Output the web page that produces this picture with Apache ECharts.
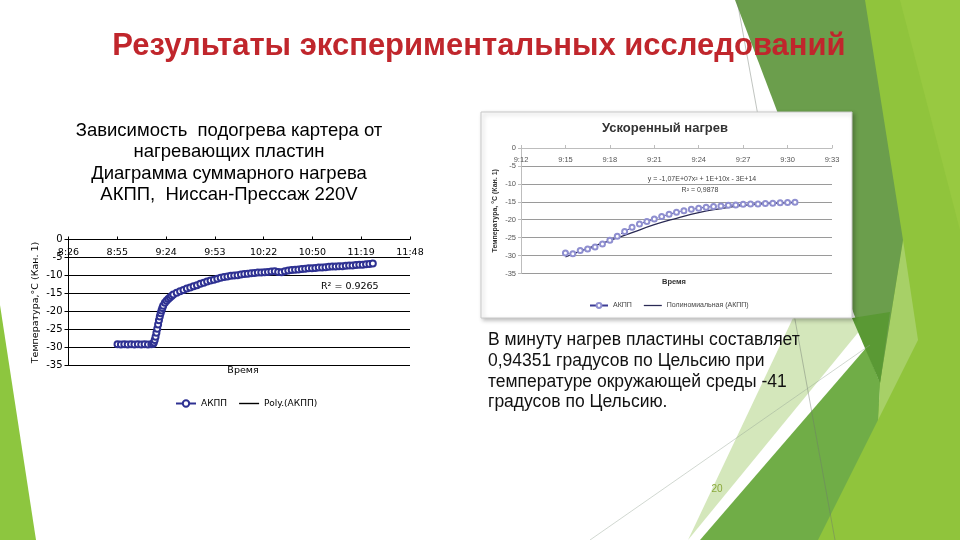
<!DOCTYPE html>
<html><head><meta charset="utf-8">
<script src="https://cdn.jsdelivr.net/npm/echarts@6/dist/echarts.min.js"></script>
<style>html,body{margin:0;padding:0;background:#fff}#c{width:960px;height:540px}</style>
</head><body><div id="c"></div>
<script>
// ---------- main chart data ----------
const mainTickLabels = ["8:26","8:55","9:24","9:53","10:22","10:50","11:19","11:48"];
const mainTimes = [
 "8:55","8:57","8:59","9:01","9:03","9:05","9:07","9:09","9:11","9:13","9:15","9:16",
 "9:16:30","9:17","9:17:30","9:18","9:18:30","9:19","9:19:30","9:20","9:20:30","9:21","9:21:30","9:22",
 "9:23","9:24","9:25","9:26","9:27","9:28","9:30","9:32","9:34","9:36","9:38","9:40",
 "9:42","9:44","9:46","9:48","9:50","9:52","9:54","9:56","9:58","10:00","10:02","10:04",
 "10:06","10:08","10:10","10:12","10:14","10:16","10:18","10:20","10:22","10:24","10:26","10:28",
 "10:30","10:32","10:34","10:36","10:38","10:40","10:42","10:44","10:46","10:48","10:50","10:52",
 "10:54","10:56","10:58","11:00","11:02","11:04","11:06","11:08","11:10","11:12","11:14","11:16",
 "11:18","11:20","11:22","11:24","11:26"];
const mainTemps = [
 -29.1,-29.2,-29.1,-29.2,-29.1,-29.2,-29.1,-29.2,-29.1,-29.2,-29.1,-29.0,
 -28.6,-27.9,-27.0,-25.9,-24.8,-23.6,-22.4,-21.4,-20.5,-19.7,-19.0,-18.4,
 -17.6,-17.0,-16.5,-16.1,-15.7,-15.3,-14.8,-14.4,-14.0,-13.6,-13.3,-13.0,
 -12.7,-12.3,-12.0,-11.7,-11.4,-11.2,-10.9,-10.6,-10.4,-10.3,-10.1,-10.0,
 -9.9,-9.7,-9.6,-9.5,-9.4,-9.3,-9.2,-9.2,-9.1,-9.0,-8.9,-8.8,
 -9.0,-9.1,-8.8,-8.6,-8.5,-8.4,-8.3,-8.2,-8.1,-8.0,-8.0,-7.9,
 -7.8,-7.8,-7.7,-7.6,-7.5,-7.5,-7.4,-7.4,-7.3,-7.2,-7.2,-7.1,
 -7.0,-7.0,-6.9,-6.8,-6.7];
const mainR2 = "R² = 0.9265";

// ---------- inset chart data ----------
const insetTickLabels = ["9:12","9:15","9:18","9:21","9:24","9:27","9:30","9:33"];
const insetTimes = [
 "9:15:00","9:15:30","9:16:00","9:16:30","9:17:00","9:17:30","9:18:00","9:18:30",
 "9:19:00","9:19:30","9:20:00","9:20:30","9:21:00","9:21:30","9:22:00","9:22:30",
 "9:23:00","9:23:30","9:24:00","9:24:30","9:25:00","9:25:30","9:26:00","9:26:30",
 "9:27:00","9:27:30","9:28:00","9:28:30","9:29:00","9:29:30","9:30:00","9:30:30"];
const insetTemps = [
 -29.3,-29.5,-28.6,-28.2,-27.6,-26.8,-25.7,-24.6,
 -23.3,-22.1,-21.2,-20.5,-19.8,-19.1,-18.5,-17.9,
 -17.5,-17.1,-16.8,-16.5,-16.3,-16.2,-16.0,-15.9,
 -15.7,-15.6,-15.6,-15.5,-15.4,-15.3,-15.2,-15.1];
const insetTrendTimes = ["9:15:00","9:16:30","9:18:00","9:19:30","9:21:00","9:22:30","9:24:00","9:25:30","9:27:00","9:28:30","9:30:30"];
const insetTrendTemps = [-30.4,-28.0,-25.8,-23.6,-21.4,-19.6,-18.0,-16.9,-16.0,-15.5,-15.2];
const insetEquation = "y = -1,07E+07x² + 1E+10x - 3E+14";
const insetR2 = "R² = 0,9878";

// ---------- helpers ----------
function toMin(s){const p=s.split(':').map(Number);return p[0]*60+p[1]+(p[2]||0)/60;}
const mainBase = toMin(mainTickLabels[0]);
const mainSpan = toMin(mainTickLabels[mainTickLabels.length-1]) - mainBase;
const mainStep = mainSpan/(mainTickLabels.length-1);
const insetBase = toMin(insetTickLabels[0]);
const insetSpan = toMin(insetTickLabels[insetTickLabels.length-1]) - insetBase;
const insetStep = insetSpan/(insetTickLabels.length-1);
const mainData = mainTimes.map((t,i)=>[toMin(t)-mainBase, mainTemps[i]]);
const insetData = insetTimes.map((t,i)=>[toMin(t)-insetBase, insetTemps[i]]);
const insetTrend = insetTrendTimes.map((t,i)=>[toMin(t)-insetBase, insetTrendTemps[i]]);

const F = '"Liberation Sans", Arial, sans-serif';
const FD = '"DejaVu Sans", Verdana, sans-serif';
const lineIcon = 'path://M0,0 L20,0 L20,1.4 L0,1.4 Z';

const chart = echarts.init(document.getElementById('c'), null, {renderer:'canvas'});
function poly(points, fill, z){return {type:'polygon', z:z, silent:true, shape:{points:points}, style:{fill:fill}};}
function txt(x,y,text,font,fill,align,z){return {type:'text', z:z||10, x:x, y:y, style:{text:text, font:font, fill:fill||'#000', textAlign:align||'left', textVerticalAlign:'middle'}};}

const option = {
  animation:false,
  backgroundColor:'#ffffff',
  grid:[
    {left:68.5, right:550, top:239.5, bottom:174.5},
    {left:521, right:128, top:148, bottom:266.5}
  ],
  xAxis:[
    {gridIndex:0, type:'value', position:'top', min:0, max:mainSpan, interval:mainStep,
     axisLine:{onZero:false, lineStyle:{color:'#000', width:1}},
     axisTick:{length:3, lineStyle:{color:'#000'}},
     axisLabel:{inside:true, margin:8, fontSize:9.5, color:'#000', fontFamily:FD, showMaxLabel:true,
       formatter:v=>mainTickLabels[Math.round(v/mainStep)]||''},
     splitLine:{show:false}},
    {gridIndex:1, type:'value', position:'top', min:0, max:insetSpan, interval:insetStep,
     axisLine:{onZero:false, lineStyle:{color:'#bdbdbd', width:1}},
     axisTick:{length:3, lineStyle:{color:'#bdbdbd'}},
     axisLabel:{inside:true, margin:8, fontSize:7.5, color:'#555', fontFamily:F,
       formatter:v=>insetTickLabels[Math.round(v/insetStep)]||''},
     splitLine:{show:false}}
  ],
  yAxis:[
    {gridIndex:0, type:'value', min:-35, max:0, interval:5,
     axisLine:{show:true, onZero:false, lineStyle:{color:'#000'}},
     axisTick:{show:true, length:4, lineStyle:{color:'#000'}},
     axisLabel:{fontSize:10, color:'#000', margin:6, fontFamily:FD},
     splitLine:{lineStyle:{color:'#000', width:1}},
     name:'Температура,°С (Кан. 1)', nameLocation:'middle', nameGap:28, nameRotate:90,
     nameTextStyle:{fontSize:9.5, color:'#000', fontFamily:FD}},
    {gridIndex:1, type:'value', min:-35, max:0, interval:5,
     axisLine:{show:true, onZero:false, lineStyle:{color:'#bdbdbd'}},
     axisTick:{show:true, length:3, lineStyle:{color:'#bdbdbd'}},
     axisLabel:{fontSize:7.5, color:'#555', margin:5, fontFamily:F},
     splitLine:{lineStyle:{color:'#9a9a9a', width:1}},
     name:'Температура, °С (Кан. 1)', nameLocation:'middle', nameGap:22, nameRotate:90,
     nameTextStyle:{fontSize:7, fontWeight:'bold', color:'#333', fontFamily:F}}
  ],
  legend:[
    {left:170, top:394, itemWidth:20, itemHeight:8, itemGap:12,
     textStyle:{fontSize:9, color:'#000', fontFamily:FD},
     data:['АКПП', {name:'Poly.(АКПП)', icon:lineIcon, itemStyle:{color:'#000'}}]},
    {left:584, top:297, itemWidth:18, itemHeight:6, itemGap:12,
     textStyle:{fontSize:7, color:'#444', fontFamily:F},
     formatter:n=>n==='АКПП (ускоренный)'?'АКПП':n,
     data:['АКПП (ускоренный)', {name:'Полиномиальная (АКПП)', icon:lineIcon, itemStyle:{color:'#2a2a55'}}]}
  ],
  series:[
    {name:'АКПП', type:'line', xAxisIndex:0, yAxisIndex:0, data:mainData,
     symbol:'emptyCircle', symbolSize:6, showAllSymbol:true,
     itemStyle:{color:'#2e3192', borderWidth:1.8},
     lineStyle:{color:'#2e3192', width:2.2}, z:5},
    {name:'Poly.(АКПП)', type:'line', xAxisIndex:0, yAxisIndex:0, data:[],
     symbol:'none', lineStyle:{color:'#000', width:1}, itemStyle:{color:'#000'}},
    {name:'Полиномиальная (АКПП)', type:'line', xAxisIndex:1, yAxisIndex:1, data:insetTrend,
     smooth:true, symbol:'none', lineStyle:{color:'#2a2a55', width:1.3}, itemStyle:{color:'#2a2a55'}, z:4},
    {name:'АКПП (ускоренный)', type:'line', xAxisIndex:1, yAxisIndex:1, data:insetData,
     symbol:'emptyCircle', symbolSize:5, showAllSymbol:true,
     itemStyle:{color:'#8f8fd0', borderWidth:1},
     lineStyle:{color:'#3c3c96', width:1, type:'dashed'}, z:5}
  ],
  graphic:[
    // background decoration
    poly([[0,305],[36,540],[0,540]], '#8dc63f', -6),
    poly([[856,0],[960,0],[960,540],[812,540],[880,400]], '#90c43c', -7),
    poly([[900,0],[960,0],[960,230]], '#98c941', -6),
    poly([[903,240],[918,340],[878,420],[880,383]], '#a7d067', -5),
    poly([[735,0],[865,0],[903,240],[880,383]], '#6b9e4c', -4),
    poly([[793,318],[870,318],[688,540]], '#d4e7bb', -5),
    poly([[700,540],[866,348],[880,383],[878,420],[818,540]], '#70ad47', -4),
    poly([[852,318],[890,312],[880,383]], '#5a9934', -3),
    {type:'polyline', z:-3, silent:true, shape:{points:[[737,0],[835,540]]}, style:{stroke:'rgba(110,120,110,0.55)', lineWidth:0.8, fill:null}},
    {type:'polyline', z:-3, silent:true, shape:{points:[[590,540],[870,345]]}, style:{stroke:'rgba(150,165,150,0.55)', lineWidth:0.8, fill:null}},
    // inset frame
    {type:'rect', z:-1, silent:true, shape:{x:481, y:112, width:371, height:206},
     style:{fill:'#fff', stroke:'#c8c8c8', lineWidth:1, shadowBlur:4, shadowColor:'rgba(0,0,0,0.25)', shadowOffsetX:2, shadowOffsetY:2}},
    // slide texts
    {type:'text', z:10, x:479, y:46, style:{text:'Результаты экспериментальных исследований', font:'bold 31px '+F, fill:'#c0262c', textAlign:'center', textVerticalAlign:'middle', shadowBlur:2, shadowColor:'rgba(0,0,0,0.3)', shadowOffsetX:1, shadowOffsetY:1}},
    txt(229,131,'Зависимость  подогрева картера от','18.5px '+F,'#000','center'),
    txt(229,152,'нагревающих пластин','18.5px '+F,'#000','center'),
    txt(229,174,'Диаграмма суммарного нагрева','18.5px '+F,'#000','center'),
    txt(229,195,'АКПП,  Ниссан-Прессаж 220V','18.5px '+F,'#000','center'),
    txt(243,371,'Время','9.5px '+FD,'#000','center'),
    txt(321,287,mainR2,'9.5px '+FD,'#000','left'),
    txt(665,128,'Ускоренный нагрев','bold 13px '+F,'#333','center'),
    txt(674,282,'Время','bold 7.5px '+F,'#333','center'),
    txt(702,179,insetEquation,'7px '+F,'#444','center'),
    txt(700,190,insetR2,'7px '+F,'#444','center'),
    txt(488,340,'В минуту нагрев пластины составляет','17.5px '+F,'#111','left'),
    txt(488,361,'0,94351 градусов по Цельсию при','17.5px '+F,'#111','left'),
    txt(488,382,'температуре окружающей среды -41','17.5px '+F,'#111','left'),
    txt(488,402,'градусов по Цельсию.','17.5px '+F,'#111','left'),
    txt(717,489,'20','10px '+F,'#8aa83a','center')
  ]
};
chart.setOption(option);
</script></body></html>
